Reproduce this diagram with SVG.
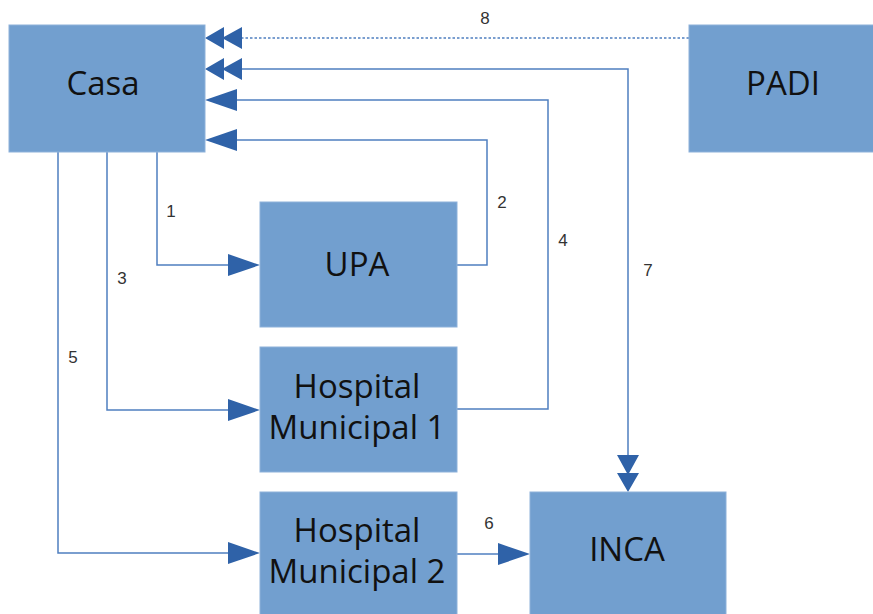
<svg xmlns="http://www.w3.org/2000/svg" width="873" height="614" viewBox="0 0 873 614">
<defs>
<style>
.node{fill:#729fcf;stroke:#8db1da;stroke-width:1}
.nt{font-family:"Open Sans","Liberation Sans",sans-serif;font-size:33px;fill:#111;text-anchor:middle}
.ln{fill:none;stroke:#4f7fc0;stroke-width:1.5}
.dot{fill:none;stroke:#4f7fc0;stroke-width:1.6;stroke-dasharray:2.5 2}
.ah{fill:#2f62a8}
.lb{font-family:"Liberation Sans",Arial,sans-serif;font-size:17px;fill:#333;text-anchor:middle}
</style>
</defs>
<rect width="873" height="614" fill="#fff"/>
<g id="connectors">
<path class="dot" d="M689,38 H240"/>
<path class="ah" d="M205,38 L224,27 L224,49 Z M222,38 L242,27 L242,49 Z"/>
<text class="lb" x="485" y="24">8</text>
<path class="ln" d="M238,69 H628 V458"/>
<path class="ah" d="M205,69 L224,58 L224,80 Z M222,69 L242,58 L242,80 Z"/>
<path class="ah" d="M628,492 L617,473 L639,473 Z M628,475 L617,455 L639,455 Z"/>
<text class="lb" x="648" y="276">7</text>
<path class="ln" d="M457,409 H548 V100 H236"/>
<path class="ah" d="M205,100 L237,89 L237,111 Z"/>
<text class="lb" x="563" y="246">4</text>
<path class="ln" d="M457,265 H487 V140 H236"/>
<path class="ah" d="M205,140 L237,129 L237,151 Z"/>
<text class="lb" x="502" y="208">2</text>
<path class="ln" d="M157,152 V265 H230"/>
<path class="ah" d="M260,265 L228,254 L228,276 Z"/>
<text class="lb" x="171" y="217">1</text>
<path class="ln" d="M107,152 V410 H230"/>
<path class="ah" d="M260,410 L228,399 L228,421 Z"/>
<text class="lb" x="122" y="284">3</text>
<path class="ln" d="M58,152 V553 H230"/>
<path class="ah" d="M260,553 L228,542 L228,564 Z"/>
<text class="lb" x="73" y="363">5</text>
<path class="ln" d="M457,554 H500"/>
<path class="ah" d="M530,554 L498,543 L498,565 Z"/>
<text class="lb" x="489" y="529">6</text>
</g>
<g id="casa"><rect class="node" x="9" y="25" width="196" height="127"/><text class="nt" x="103" y="95">Casa</text></g>
<g id="padi"><rect class="node" x="689" y="25" width="190" height="127"/><text class="nt" x="783" y="95">PADI</text></g>
<g id="upa"><rect class="node" x="260" y="202" width="197" height="125"/><text class="nt" x="357" y="276">UPA</text></g>
<g id="hm1"><rect class="node" x="260" y="347" width="197" height="125"/><text class="nt" x="357" y="398">Hospital</text><text class="nt" x="357" y="439">Municipal 1</text></g>
<g id="hm2"><rect class="node" x="260" y="492" width="197" height="130"/><text class="nt" x="357" y="542">Hospital</text><text class="nt" x="357" y="583">Municipal 2</text></g>
<g id="inca"><rect class="node" x="530" y="492" width="196" height="130"/><text class="nt" x="627" y="561">INCA</text></g>
</svg>
